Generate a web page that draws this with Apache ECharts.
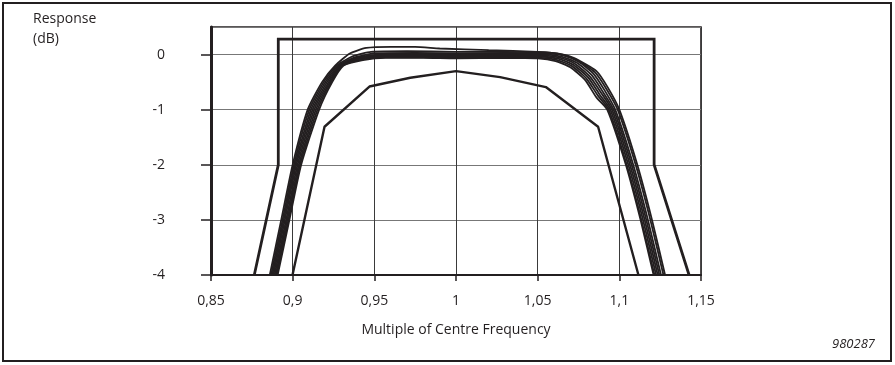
<!DOCTYPE html>
<html>
<head>
<meta charset="utf-8">
<script src="https://cdn.jsdelivr.net/npm/echarts@6/dist/echarts.min.js"></script>
<style>
  html, body { margin: 0; padding: 0; background: #fff; }
  #chart { width: 895px; height: 365px; }
</style>
</head>
<body>
<div id="chart"></div>
<script>
// x: multiple of centre frequency, y: response (dB)
var xTicks = [0.85, 0.9, 0.95, 1, 1.05, 1.1, 1.15];
var yTicks = [-4, -3, -2, -1, 0];

// mask (upper limit)
var mask = [[0.8765, -4], [0.8912, -2], [0.8912, 0.28], [1.1213, 0.28], [1.1213, -2], [1.1427, -4]];

// lower limit
var lowerLimit = [[0.8999, -4], [0.9195, -1.31], [0.947, -0.58], [0.972, -0.42], [1.0, -0.3],
    [1.027, -0.41], [1.055, -0.59], [1.087, -1.31], [1.1117, -4]];

// measured responses (bundle)
var trace1 = [[0.8860, -4], [0.8930, -3], [0.9000, -2], [0.9092, -1], [0.9180, -0.5], [0.9260, -0.2], [0.9350, 0.02], [0.9450, 0.12], [0.9600, 0.14], [0.9750, 0.14], [0.9900, 0.11], [1.0200, 0.08], [1.0500, 0.05], [1.0620, 0.02], [1.0720, -0.06], [1.0860, -0.30], [1.0930, -0.60], [1.1000, -1.0], [1.1110, -2], [1.1200, -3], [1.1280, -4]];
var trace2 = [[0.8868, -4], [0.8938, -3], [0.9008, -2], [0.9102, -1], [0.9190, -0.5], [0.9270, -0.2], [0.9370, -0.03], [0.9480, 0.05], [0.9700, 0.06], [1.0000, 0.05], [1.0300, 0.05], [1.0550, 0.04], [1.0650, 0.0], [1.0740, -0.10], [1.0850, -0.32], [1.0920, -0.62], [1.0990, -1.0], [1.1100, -2], [1.1190, -3], [1.1270, -4]];
var trace3 = [[0.8875, -4], [0.8945, -3], [0.9015, -2], [0.9112, -1], [0.9200, -0.5], [0.9280, -0.2], [0.938, -0.05], [0.950, 0.02], [0.975, 0.03], [1.0, 0.02], [1.03, 0.03], [1.055, 0.02], [1.066, -0.02], [1.075, -0.13], [1.084, -0.34], [1.091, -0.65], [1.0975, -1.0], [1.1085, -2], [1.1175, -3], [1.1255, -4]];
var trace4 = [[0.8882, -4], [0.8952, -3], [0.9022, -2], [0.9122, -1], [0.9210, -0.5], [0.9288, -0.2], [0.939, -0.06], [0.952, 0.0], [0.98, 0.01], [1.0, 0.0], [1.03, 0.01], [1.055, 0.0], [1.065, -0.04], [1.074, -0.15], [1.083, -0.37], [1.090, -0.68], [1.0965, -1.0], [1.1075, -2], [1.1165, -3], [1.1245, -4]];
var trace5 = [[0.8889, -4], [0.8960, -3], [0.9030, -2], [0.9132, -1], [0.9220, -0.5], [0.9295, -0.2], [0.940, -0.07], [0.953, -0.02], [0.98, -0.01], [1.0, -0.02], [1.03, -0.01], [1.055, -0.02], [1.064, -0.06], [1.073, -0.17], [1.082, -0.40], [1.089, -0.70], [1.0955, -1.0], [1.1065, -2], [1.1155, -3], [1.1235, -4]];
var trace6 = [[0.8896, -4], [0.8967, -3], [0.9038, -2], [0.9142, -1], [0.9228, -0.5], [0.9300, -0.2], [0.941, -0.08], [0.955, -0.03], [0.98, -0.03], [1.0, -0.04], [1.03, -0.03], [1.053, -0.04], [1.063, -0.08], [1.072, -0.19], [1.081, -0.42], [1.088, -0.73], [1.0945, -1.0], [1.1055, -2], [1.1145, -3], [1.1225, -4]];
var trace7 = [[0.8902, -4], [0.8974, -3], [0.9045, -2], [0.9152, -1], [0.9235, -0.5], [0.9305, -0.2], [0.942, -0.09], [0.956, -0.05], [0.98, -0.05], [1.0, -0.06], [1.03, -0.05], [1.052, -0.06], [1.062, -0.10], [1.071, -0.21], [1.080, -0.44], [1.087, -0.75], [1.0935, -1.0], [1.1045, -2], [1.1135, -3], [1.1215, -4]];
var trace8 = [[0.8908, -4], [0.8980, -3], [0.9052, -2], [0.9162, -1], [0.9242, -0.5], [0.9312, -0.2], [0.943, -0.10], [0.957, -0.06], [0.98, -0.06], [1.0, -0.07], [1.03, -0.06], [1.05, -0.07], [1.061, -0.12], [1.070, -0.23], [1.079, -0.46], [1.086, -0.78], [1.0926, -1.0], [1.104, -2], [1.113, -3], [1.121, -4]];

var traces = [trace1, trace2, trace3, trace4, trace5, trace6, trace7, trace8];

var ink = '#231f20';
var font = '"Open Sans", "Noto Sans", sans-serif';

var myChart = echarts.init(document.getElementById('chart'));

function fmt(v) {
    return parseFloat(v.toFixed(2)).toString().replace('.', ',');
}

var series = [];
traces.forEach(function (t, i) {
    series.push({
        name: 'trace' + (i + 1),
        type: 'line',
        data: t,
        symbol: 'none',
        smooth: 0.2,
        silent: true,
        lineStyle: { color: ink, width: 1.8 }
    });
});
series.push({
    name: 'lower',
    type: 'line',
    data: lowerLimit,
    symbol: 'none',
    lineStyle: { color: ink, width: 2.4 }
});
series.push({
    name: 'mask',
    type: 'line',
    data: mask,
    symbol: 'none',
    lineStyle: { color: ink, width: 2.8, join: 'miter' }
});

var option = {
    animation: false,
    backgroundColor: '#fff',
    grid: {
        left: 211,
        right: 194,
        top: 27,
        bottom: 90,
        show: true,
        borderColor: ink,
        borderWidth: 1.6
    },
    xAxis: {
        type: 'value',
        min: 0.85,
        max: 1.15,
        interval: 0.05,
        name: 'Multiple of Centre Frequency',
        nameLocation: 'middle',
        nameGap: 48,
        nameTextStyle: { fontFamily: font, fontSize: 14, color: ink },
        axisLine: { onZero: false, lineStyle: { color: ink, width: 2 } },
        axisTick: { show: true, length: 6, lineStyle: { color: ink, width: 1.5 } },
        axisLabel: { margin: 19, fontFamily: font, fontSize: 14, color: ink, formatter: fmt },
        splitLine: { show: true, lineStyle: { color: '#3a3a3a', width: 1 } }
    },
    yAxis: {
        type: 'value',
        min: -4,
        max: 0.5,
        interval: 1,
        axisLine: { onZero: false, lineStyle: { color: ink, width: 3 } },
        axisTick: { show: true, length: 10, lineStyle: { color: ink, width: 1.5 } },
        axisLabel: {
            margin: 46, fontFamily: font, fontSize: 14, color: ink,
            showMaxLabel: false,
            formatter: function (v) { return yTicks.indexOf(v) >= 0 ? String(v) : ''; }
        },
        splitLine: { show: true, lineStyle: { color: '#777', width: 1 } }
    },
    graphic: [
        {
            type: 'rect',
            shape: { x: 3, y: 3, width: 888, height: 358 },
            style: { fill: 'none', stroke: ink, lineWidth: 2 }
        },
        {
            type: 'text',
            left: 33,
            top: 9,
            style: { text: 'Response\n(dB)', fontFamily: font, fontSize: 14, lineHeight: 20, fill: ink }
        },
        {
            type: 'text',
            right: 20,
            top: 338,
            style: { text: '980287', fontFamily: font, fontSize: 13, fontStyle: 'italic', fill: ink }
        }
    ],
    series: series
};

myChart.setOption(option);
</script>
</body>
</html>
